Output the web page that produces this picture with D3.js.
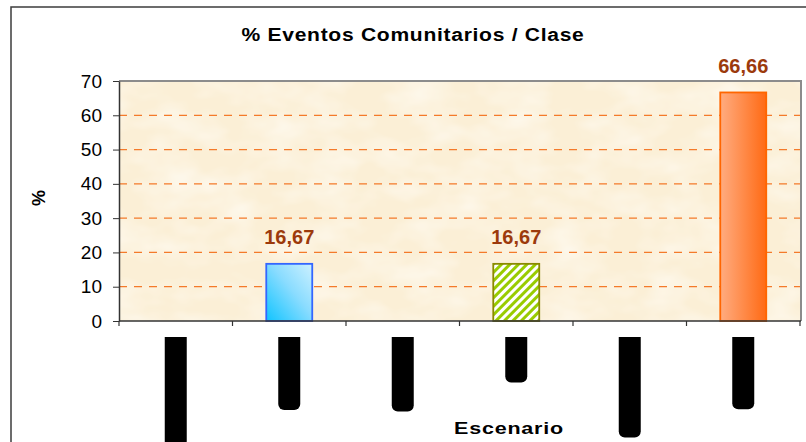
<!DOCTYPE html>
<html>
<head>
<meta charset="utf-8">
<script src="https://cdn.jsdelivr.net/npm/d3@7"></script>
<style>
body { margin: 0; background: #fff; }
text { font-family: Arial, "Liberation Sans", sans-serif; }
</style>
</head>
<body>
<div id="chart"></div>
<script>
// chart data
var categories = ["Parque Nacional", "Plaza Roja", "Calle Rosa", "Hogar", "Parque Central", "Plaza Real"];
var values = [0, 16.67, 0, 16.67, 0, 66.66];
var yTicks = [0, 10, 20, 30, 40, 50, 60, 70];
var titleText = "% Eventos Comunitarios / Clase";
var xTitle = "Escenario";
var yTitle = "%";

var svgWidth = 806;
var svgHeight = 442;

var plot = { left: 119, top: 81, right: 800, bottom: 321 };

var svg = d3.select("#chart").append("svg").attr("width", svgWidth).attr("height", svgHeight);
var defs = svg.append("defs");

// parchment texture
var tex = defs.append("filter").attr("id", "paper").attr("x", 0).attr("y", 0).attr("width", 1).attr("height", 1);
tex.append("feTurbulence").attr("type", "fractalNoise").attr("baseFrequency", "0.02 0.035").attr("numOctaves", 3).attr("seed", 4).attr("result", "n");
tex.append("feColorMatrix").attr("in", "n").attr("type", "matrix")
    .attr("values", "0 0 0 0 1  0 0 0 0 0.98  0 0 0 0 0.93  0 0 0 -1.2 0.75");

var blueGrad = defs.append("linearGradient").attr("id", "blueGrad").attr("x1", "100%").attr("y1", "0%").attr("x2", "0%").attr("y2", "100%");
blueGrad.append("stop").attr("offset", "0%").attr("stop-color", "#cdf1ff");
blueGrad.append("stop").attr("offset", "45%").attr("stop-color", "#8adcff");
blueGrad.append("stop").attr("offset", "100%").attr("stop-color", "#10c4ff");

var orangeGrad = defs.append("linearGradient").attr("id", "orangeGrad").attr("x1", "0%").attr("y1", "0%").attr("x2", "100%").attr("y2", "0%");
orangeGrad.append("stop").attr("offset", "0%").attr("stop-color", "#ffac80");
orangeGrad.append("stop").attr("offset", "100%").attr("stop-color", "#ff6a14");

var stripes = defs.append("pattern").attr("id", "stripes").attr("patternUnits", "userSpaceOnUse")
    .attr("width", 6).attr("height", 6).attr("patternTransform", "rotate(45)");
stripes.append("rect").attr("width", 6).attr("height", 6).attr("fill", "#ffffff");
stripes.append("rect").attr("width", 3).attr("height", 6).attr("fill", "#99cc00");

var barFills = ["#cccccc", "url(#blueGrad)", "#cccccc", "url(#stripes)", "#cccccc", "url(#orangeGrad)"];
var barStrokes = ["#999999", "#3366ff", "#999999", "#8a8a00", "#999999", "#ff6600"];

var rows = categories.map((c, i) => ({ cat: c, value: values[i], i: i }));
var shown = rows.filter(d => d.value > 0);

// outer chart border
svg.append("rect").attr("x", 11).attr("y", 7).attr("width", 820).attr("height", 460)
    .attr("fill", "#fff").attr("stroke", "#3c3c3c").attr("stroke-width", 1.5);

var x = d3.scaleBand().domain(categories).range([plot.left, plot.right]).paddingInner(0.595).paddingOuter(0.2975);
var y = d3.scaleLinear().domain([0, 70]).range([plot.bottom, plot.top]);

// plot area
svg.append("rect").attr("x", plot.left).attr("y", plot.top)
    .attr("width", plot.right - plot.left).attr("height", plot.bottom - plot.top).attr("fill", "#fbefd6");
svg.append("rect").attr("x", plot.left).attr("y", plot.top)
    .attr("width", plot.right - plot.left).attr("height", plot.bottom - plot.top).attr("filter", "url(#paper)");

// gridlines
svg.append("g").selectAll("line").data(yTicks.filter(d => d > 0 && d < 70)).enter().append("line")
    .attr("x1", plot.left).attr("x2", plot.right)
    .attr("y1", d => y(d)).attr("y2", d => y(d))
    .attr("stroke", "#f47a2a").attr("stroke-width", 1.2).attr("stroke-dasharray", "8,7");

// plot border top/right
svg.append("path").attr("d", `M${plot.left},${plot.top}H${plot.right + 1}V${plot.bottom}`)
    .attr("fill", "none").attr("stroke", "#8c8c8c").attr("stroke-width", 2);

// bars
svg.append("g").selectAll("rect").data(shown).enter().append("rect")
    .attr("x", d => x(d.cat))
    .attr("y", d => y(d.value))
    .attr("width", x.bandwidth())
    .attr("height", d => y(0) - y(d.value))
    .attr("fill", d => barFills[d.i])
    .attr("stroke", d => barStrokes[d.i])
    .attr("stroke-width", 1.8);

// data labels
var fmt = d3.formatLocale({ decimal: ",", thousands: ".", grouping: [3], currency: ["", ""] }).format(".2f");
svg.append("g").selectAll("text").data(shown).enter().append("text")
    .attr("x", d => x(d.cat) + x.bandwidth() / 2)
    .attr("y", d => y(d.value) - 19.5)
    .attr("text-anchor", "middle")
    .attr("font-size", "20px").attr("font-weight", "bold").attr("fill", "#9c3a0c")
    .text(d => fmt(d.value));

// y axis
var leftAxis = d3.axisLeft(y).tickValues(yTicks).tickSize(6).tickPadding(11).tickSizeOuter(0);
var yAxis = svg.append("g").attr("transform", `translate(${plot.left},0)`).call(leftAxis);
yAxis.selectAll("text").attr("font-size", "19px").attr("fill", "#000").style("font-family", "Arial, 'Liberation Sans', sans-serif");
yAxis.selectAll("line").attr("stroke", "#333");
yAxis.select(".domain").attr("stroke", "#333").attr("stroke-width", 1.5);

// x axis: ticks at band edges
svg.append("line").attr("x1", plot.left).attr("x2", plot.right + 1).attr("y1", plot.bottom).attr("y2", plot.bottom)
    .attr("stroke", "#333").attr("stroke-width", 1.5);
var edges = categories.map(c => x(c) - x.step() * x.paddingInner() / 2).concat([plot.right]);
svg.append("g").selectAll("line").data(edges).enter().append("line")
    .attr("x1", d => d).attr("x2", d => d).attr("y1", plot.bottom).attr("y2", plot.bottom + 5)
    .attr("stroke", "#333").attr("stroke-width", 1.2);

// category labels (rotated, blacked out)
var clip = defs.append("clipPath").attr("id", "labelClip");
clip.append("rect").attr("x", 0).attr("y", 337).attr("width", svgWidth).attr("height", svgHeight);
var labels = svg.append("g").attr("clip-path", "url(#labelClip)").selectAll("g").data(categories).enter().append("g")
    .attr("transform", d => `translate(${x(d) + x.bandwidth() / 2},337)`);
labels.each(function (d) {
    var g = d3.select(this);
    var t = g.append("text").attr("transform", "rotate(-90)").attr("x", -4).attr("dy", "0.35em")
        .attr("text-anchor", "end").attr("font-size", "13px").attr("font-weight", "bold").attr("fill", "#000").text(d);
    var len = t.node().getComputedTextLength();
    g.insert("rect", "text").attr("x", -11).attr("y", -8).attr("width", 22).attr("height", len + 16).attr("rx", 6).attr("fill", "#000");
});

// titles
svg.append("text").attr("x", 413).attr("y", 41).attr("text-anchor", "middle")
    .attr("font-size", "18px").attr("font-weight", "bold").attr("letter-spacing", "0.6px")
    .attr("textLength", 343).attr("lengthAdjust", "spacingAndGlyphs")
    .text(titleText);
svg.append("text").attr("x", 509).attr("y", 434).attr("text-anchor", "middle")
    .attr("font-size", "16px").attr("font-weight", "bold").attr("letter-spacing", "0.6px")
    .attr("textLength", 110).attr("lengthAdjust", "spacingAndGlyphs")
    .text(xTitle);
svg.append("text").attr("transform", "translate(39,198) rotate(-90)").attr("text-anchor", "middle").attr("dy", "0.35em")
    .attr("font-size", "18px").attr("font-weight", "bold")
    .text(yTitle);
</script>
</body>
</html>
